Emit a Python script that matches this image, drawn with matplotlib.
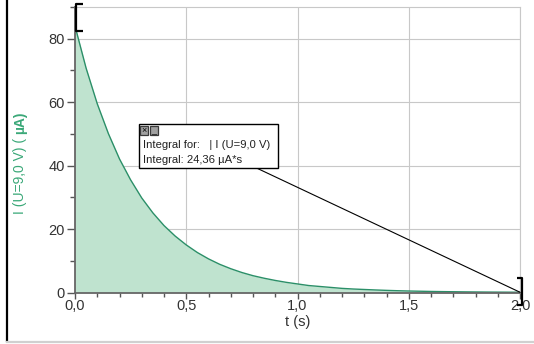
import numpy as np
import matplotlib.pyplot as plt
from matplotlib.path import Path
from matplotlib.patches import Rectangle
from matplotlib.lines import Line2D

plt.rcParams['font.family'] = ['Liberation Sans', 'DejaVu Sans']

t = [0.00, 0.05, 0.10, 0.15, 0.20, 0.25, 0.30, 0.35, 0.40, 0.45,
     0.50, 0.55, 0.60, 0.65, 0.70, 0.75, 0.80, 0.85, 0.90, 0.95,
     1.00, 1.05, 1.10, 1.15, 1.20, 1.25, 1.30, 1.35, 1.40, 1.45,
     1.50, 1.55, 1.60, 1.65, 1.70, 1.75, 1.80, 1.85, 1.90, 1.95, 2.00]
current = [84.0, 70.7, 59.5, 50.1, 42.1, 35.5, 29.8, 25.1, 21.1, 17.8,
           15.0, 12.6, 10.6, 8.9, 7.5, 6.3, 5.3, 4.5, 3.8, 3.2,
           2.7, 2.2, 1.9, 1.6, 1.3, 1.1, 0.95, 0.8, 0.67, 0.56,
           0.47, 0.4, 0.33, 0.28, 0.24, 0.2, 0.17, 0.14, 0.12, 0.1, 0.08]

x_ticks = [0.0, 0.5, 1.0, 1.5, 2.0]
x_labels = ['0,0', '0,5', '1,0', '1,5', '2,0']
y_ticks = [0, 20, 40, 60, 80]
y_labels = ['0', '20', '40', '60', '80']
integral_label = 'Integral for:   | I (U=9,0 V)'
integral_value = 'Integral: 24,36 \u00b5A*s'

fill_col = '#bfe3cf'
line_col = '#2b8f68'
label_col = '#3aa878'

fig = plt.figure(figsize=(5.34, 3.44), dpi=100)
ax = fig.add_axes([75 / 534, 1 - 292.5 / 344, 445 / 534, 285.5 / 344])

ax.fill_between(t, current, 0, color=fill_col, lw=0, zorder=1)
ax.plot(t, current, color=line_col, lw=1.0, zorder=2)

ax.set_xlim(0, 2.0)
ax.set_ylim(0, 90)
ax.set_xticks(x_ticks)
ax.set_xticklabels(x_labels)
ax.set_yticks(y_ticks)
ax.set_yticklabels(y_labels)
ax.set_xticks(np.arange(0, 2.01, 0.1), minor=True)
ax.set_yticks(np.arange(0, 91, 10), minor=True)
ax.grid(True, which='major', color='#c8c8c8', lw=0.8, zorder=0)
ax.set_axisbelow(True)

ax.tick_params(axis='x', which='major', length=4, width=1, color='#555555',
               labelsize=10.5, labelcolor='#333333', pad=1)
ax.tick_params(axis='x', which='minor', length=3, width=1, color='#555555')
ax.tick_params(axis='y', which='major', length=6, width=1, color='#555555',
               labelsize=10.5, labelcolor='#333333', pad=1.5)
ax.tick_params(axis='y', which='minor', length=3.5, width=1, color='#555555')

for s in ['left', 'bottom']:
    ax.spines[s].set_color('#666666')
    ax.spines[s].set_linewidth(1.3)
for s in ['top', 'right']:
    ax.spines[s].set_color('#c8c8c8')
    ax.spines[s].set_linewidth(0.8)

ax.set_xlabel('t (s)', fontsize=10.5, color='#333333', labelpad=1)

# y-Achsenbeschriftung, "uA)" fett
fig.text(20 / 534, 1 - 134 / 344, 'I (U=9,0 V) ( ', rotation=90, color=label_col,
         fontsize=10, ha='center', va='top')
fig.text(20 / 534, 1 - 134 / 344, '\u00b5A)', rotation=90, color=label_col,
         fontsize=10, fontweight='bold', ha='center', va='bottom')


# Klammern der Integrationsgrenzen als Marker
def bracket(verts):
    m = max(abs(v) for p in verts for v in p)
    path = Path(verts, [Path.MOVETO] + [Path.LINETO] * (len(verts) - 1))
    return path, 2 * m * 72 / fig.dpi


p1, ms1 = bracket([(8, 22.5), (0.5, 22.5), (0.5, -4.5), (8, -4.5)])
p2, ms2 = bracket([(-3.5, 14), (1.5, 14), (1.5, -13), (-3.5, -13)])
ax.plot([t[0]], [current[0]], marker=p1, ms=ms1, mfc='none', mec='black',
        mew=1.6, ls='none', clip_on=False, zorder=6)
ax.plot([t[-1]], [current[-1]], marker=p2, ms=ms2, mfc='none', mec='black',
        mew=1.6, ls='none', clip_on=False, zorder=6)

# Integral-Box mit Verbindungslinie
ax.annotate('', xy=(t[-1], current[-1]), xytext=(0.408, 0.436),
            textcoords='axes fraction',
            arrowprops=dict(arrowstyle='-', lw=0.8, color='black',
                            shrinkA=0, shrinkB=0), zorder=5)
ax.add_patch(Rectangle((0.1438, 0.4361), 0.3124, 0.1541, transform=ax.transAxes,
                       facecolor='white', edgecolor='black', lw=1.0,
                       clip_on=False, zorder=7))
for bx, sym in [(0.1461, '\u00d7'), (0.1685, '_')]:
    ax.add_patch(Rectangle((bx, 0.553), 0.018, 0.031, transform=ax.transAxes,
                           facecolor='#a0a0a0', edgecolor='#3a3a3a', lw=0.9,
                           clip_on=False, zorder=8))
    ax.text(bx + 0.009, 0.568, sym, transform=ax.transAxes, fontsize=6.5,
            ha='center', va='center', color='black', zorder=9)
ax.text(0.1528, 0.5177, integral_label, transform=ax.transAxes, fontsize=8.1,
        ha='left', va='center', color='#222222', zorder=9)
ax.text(0.1528, 0.4652, integral_value, transform=ax.transAxes, fontsize=8.1,
        ha='left', va='center', color='#222222', zorder=9)

# Rahmen des Fensters
fig.add_artist(Line2D([7 / 534, 7 / 534], [1 - 341 / 344, 1.0],
                      transform=fig.transFigure, color='black', lw=1.6))
fig.add_artist(Line2D([7 / 534, 1.0], [1 - 342 / 344, 1 - 342 / 344],
                      transform=fig.transFigure, color='#d0d0d0', lw=1.6))

fig.savefig('out.png', dpi=100)
